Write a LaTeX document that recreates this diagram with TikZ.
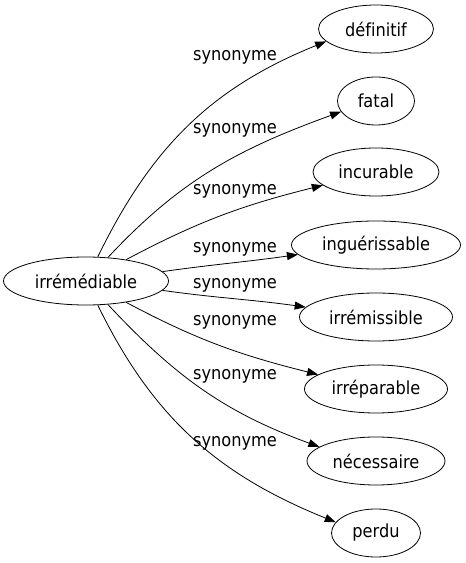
\documentclass[tikz,border=0pt]{standalone}
\usepackage{fontspec}
\setmainfont[FakeStretch=0.9,Ligatures=NoCommon]{DejaVu Sans}
\usetikzlibrary{shapes.geometric,arrows.meta}
\begin{document}
\begin{tikzpicture}[x=1pt,y=1pt,
  word/.style={draw,ellipse,inner sep=0pt,minimum height=48pt,line width=0.8pt,font=\fontsize{18}{21}\selectfont},
  lab/.style={inner sep=0pt,font=\fontsize{18}{21}\selectfont},
  syn/.style={line width=0.8pt,-{Triangle[length=11pt,width=8pt]}}]
\useasboundingbox (0,0) rectangle (466,563);
\node[word,minimum width=165pt] (src) at (86,282) {irrémédiable};
\node[word,minimum width=115pt] (definitif) at (376,534) {définitif};
\node[word,minimum width=77pt] (fatal) at (376,462) {fatal};
\node[word,minimum width=126pt] (incurable) at (376,391) {incurable};
\node[word,minimum width=169pt] (inguerissable) at (376,318) {inguérissable};
\node[word,minimum width=153pt] (irremissible) at (376,246) {irrémissible};
\node[word,minimum width=143pt] (irreparable) at (376,174) {irréparable};
\node[word,minimum width=138pt] (necessaire) at (376,102) {nécessaire};
\node[word,minimum width=89pt] (perdu) at (376,30) {perdu};
\node[lab] (l1) at (235,506) {synonyme};
\node[lab] (l2) at (235,433) {synonyme};
\node[lab] (l3) at (235,372) {synonyme};
\node[lab] (l4) at (235,314) {synonyme};
\node[lab] (l5) at (235,278) {synonyme};
\node[lab] (l6) at (235,241) {synonyme};
\node[lab] (l7) at (235,187) {synonyme};
\node[lab] (l8) at (235,120) {synonyme};
\draw[syn] (src.64) to[out=64,in=202] (definitif.194);
\draw[syn] (src.47) to[out=47,in=200] (fatal.197);
\draw[syn] (src.28) to[out=28,in=194] (incurable.194);
\draw[syn] (src.7) to[out=8,in=188] (inguerissable.187);
\draw[syn] (src.-7) to[out=-8,in=172] (irremissible.172);
\draw[syn] (src.-28) to[out=-28,in=166] (irreparable.166);
\draw[syn] (src.-47) to[out=-47,in=160] (necessaire.166);
\draw[syn] (src.-64) to[out=-64,in=158] (perdu.165);
\end{tikzpicture}
\end{document}
